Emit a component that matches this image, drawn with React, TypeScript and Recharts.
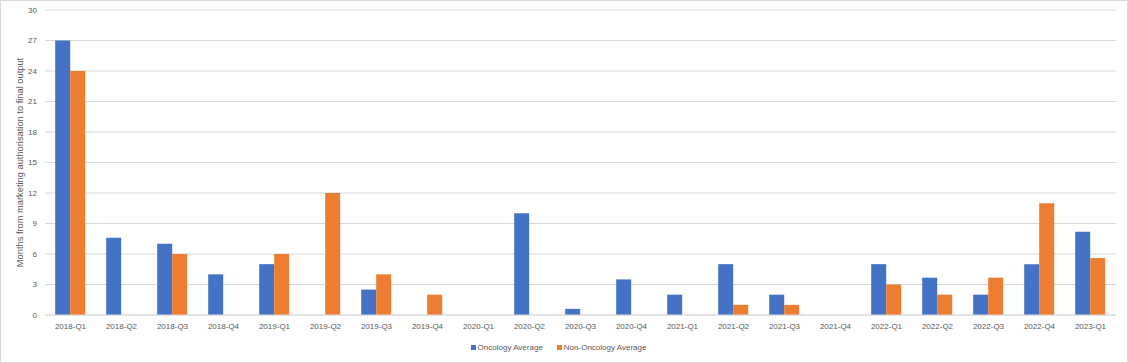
import React from 'react';
import { BarChart, Bar, XAxis, YAxis, CartesianGrid, Legend } from 'recharts';

const quarters = [
  '2018-Q1', '2018-Q2', '2018-Q3', '2018-Q4',
  '2019-Q1', '2019-Q2', '2019-Q3', '2019-Q4',
  '2020-Q1', '2020-Q2', '2020-Q3', '2020-Q4',
  '2021-Q1', '2021-Q2', '2021-Q3', '2021-Q4',
  '2022-Q1', '2022-Q2', '2022-Q3', '2022-Q4',
  '2023-Q1',
];

const oncologyAverage: (number | null)[] = [
  27, 7.6, 7, 4,
  5, null, 2.5, null,
  null, 10, 0.6, 3.5,
  2, 5, 2, null,
  5, 3.67, 2, 5,
  8.2,
];

const nonOncologyAverage: (number | null)[] = [
  24, null, 6, null,
  6, 12, 4, 2,
  null, null, null, null,
  null, 1, 1, null,
  3, 2, 3.67, 11,
  5.6,
];

const seriesNames = ['Oncology Average', 'Non-Oncology Average'];
const seriesColors = ['#4472C4', '#ED7D31'];

const yTicks = [0, 3, 6, 9, 12, 15, 18, 21, 24, 27, 30];

const data = quarters.map((q, i) => ({
  quarter: q,
  oncology: oncologyAverage[i],
  nonOncology: nonOncologyAverage[i],
}));

const FONT = '"Liberation Sans", Arial, sans-serif';
const TEXT = '#595959';

const LegendContent = () => (
  <div
    style={{
      display: 'flex',
      justifyContent: 'center',
      alignItems: 'center',
      height: 14,
      fontSize: 8,
      fontFamily: FONT,
      color: TEXT,
    }}
  >
    {seriesNames.map((name, i) => (
      <div key={name} style={{ display: 'flex', alignItems: 'center', marginRight: i === 0 ? 14 : 0 }}>
        <span style={{ display: 'inline-block', width: 5, height: 5, background: seriesColors[i], marginRight: 2 }} />
        <span>{name}</span>
      </div>
    ))}
  </div>
);

export default function App() {
  return (
    <div
      style={{
        position: 'absolute',
        left: 0,
        top: 0,
        width: 1128,
        height: 363,
        border: '1px solid #d9d9d9',
        boxSizing: 'border-box',
        background: '#fff',
        fontFamily: FONT,
      }}
    >
      <BarChart
        width={1126}
        height={361}
        data={data}
        margin={{ top: 9, right: 11, left: 0, bottom: 8 }}
        barCategoryGap="20%"
        barGap={0}
      >
        <CartesianGrid vertical={false} stroke="#d9d9d9" />
        <XAxis
          dataKey="quarter"
          height={25}
          tickLine={false}
          axisLine={{ stroke: '#d9d9d9' }}
          interval={0}
          tick={{ fill: TEXT, fontSize: 8, fontFamily: FONT }}
        />
        <YAxis
          width={44}
          domain={[0, 30]}
          ticks={yTicks}
          interval={0}
          tickLine={false}
          axisLine={false}
          tick={{ fill: TEXT, fontSize: 8, fontFamily: FONT }}
          label={{
            value: 'Months from marketing authorisation to final output',
            angle: -90,
            position: 'insideLeft',
            offset: 19,
            style: { textAnchor: 'middle', fill: TEXT, fontSize: 9.3, fontFamily: FONT },
          }}
        />
        <Legend
          verticalAlign="bottom"
          align="center"
          wrapperStyle={{ height: 14 }}
          content={<LegendContent />}
        />
        <Bar dataKey="oncology" name={seriesNames[0]} fill={seriesColors[0]} isAnimationActive={false} />
        <Bar dataKey="nonOncology" name={seriesNames[1]} fill={seriesColors[1]} isAnimationActive={false} />
      </BarChart>
    </div>
  );
}
